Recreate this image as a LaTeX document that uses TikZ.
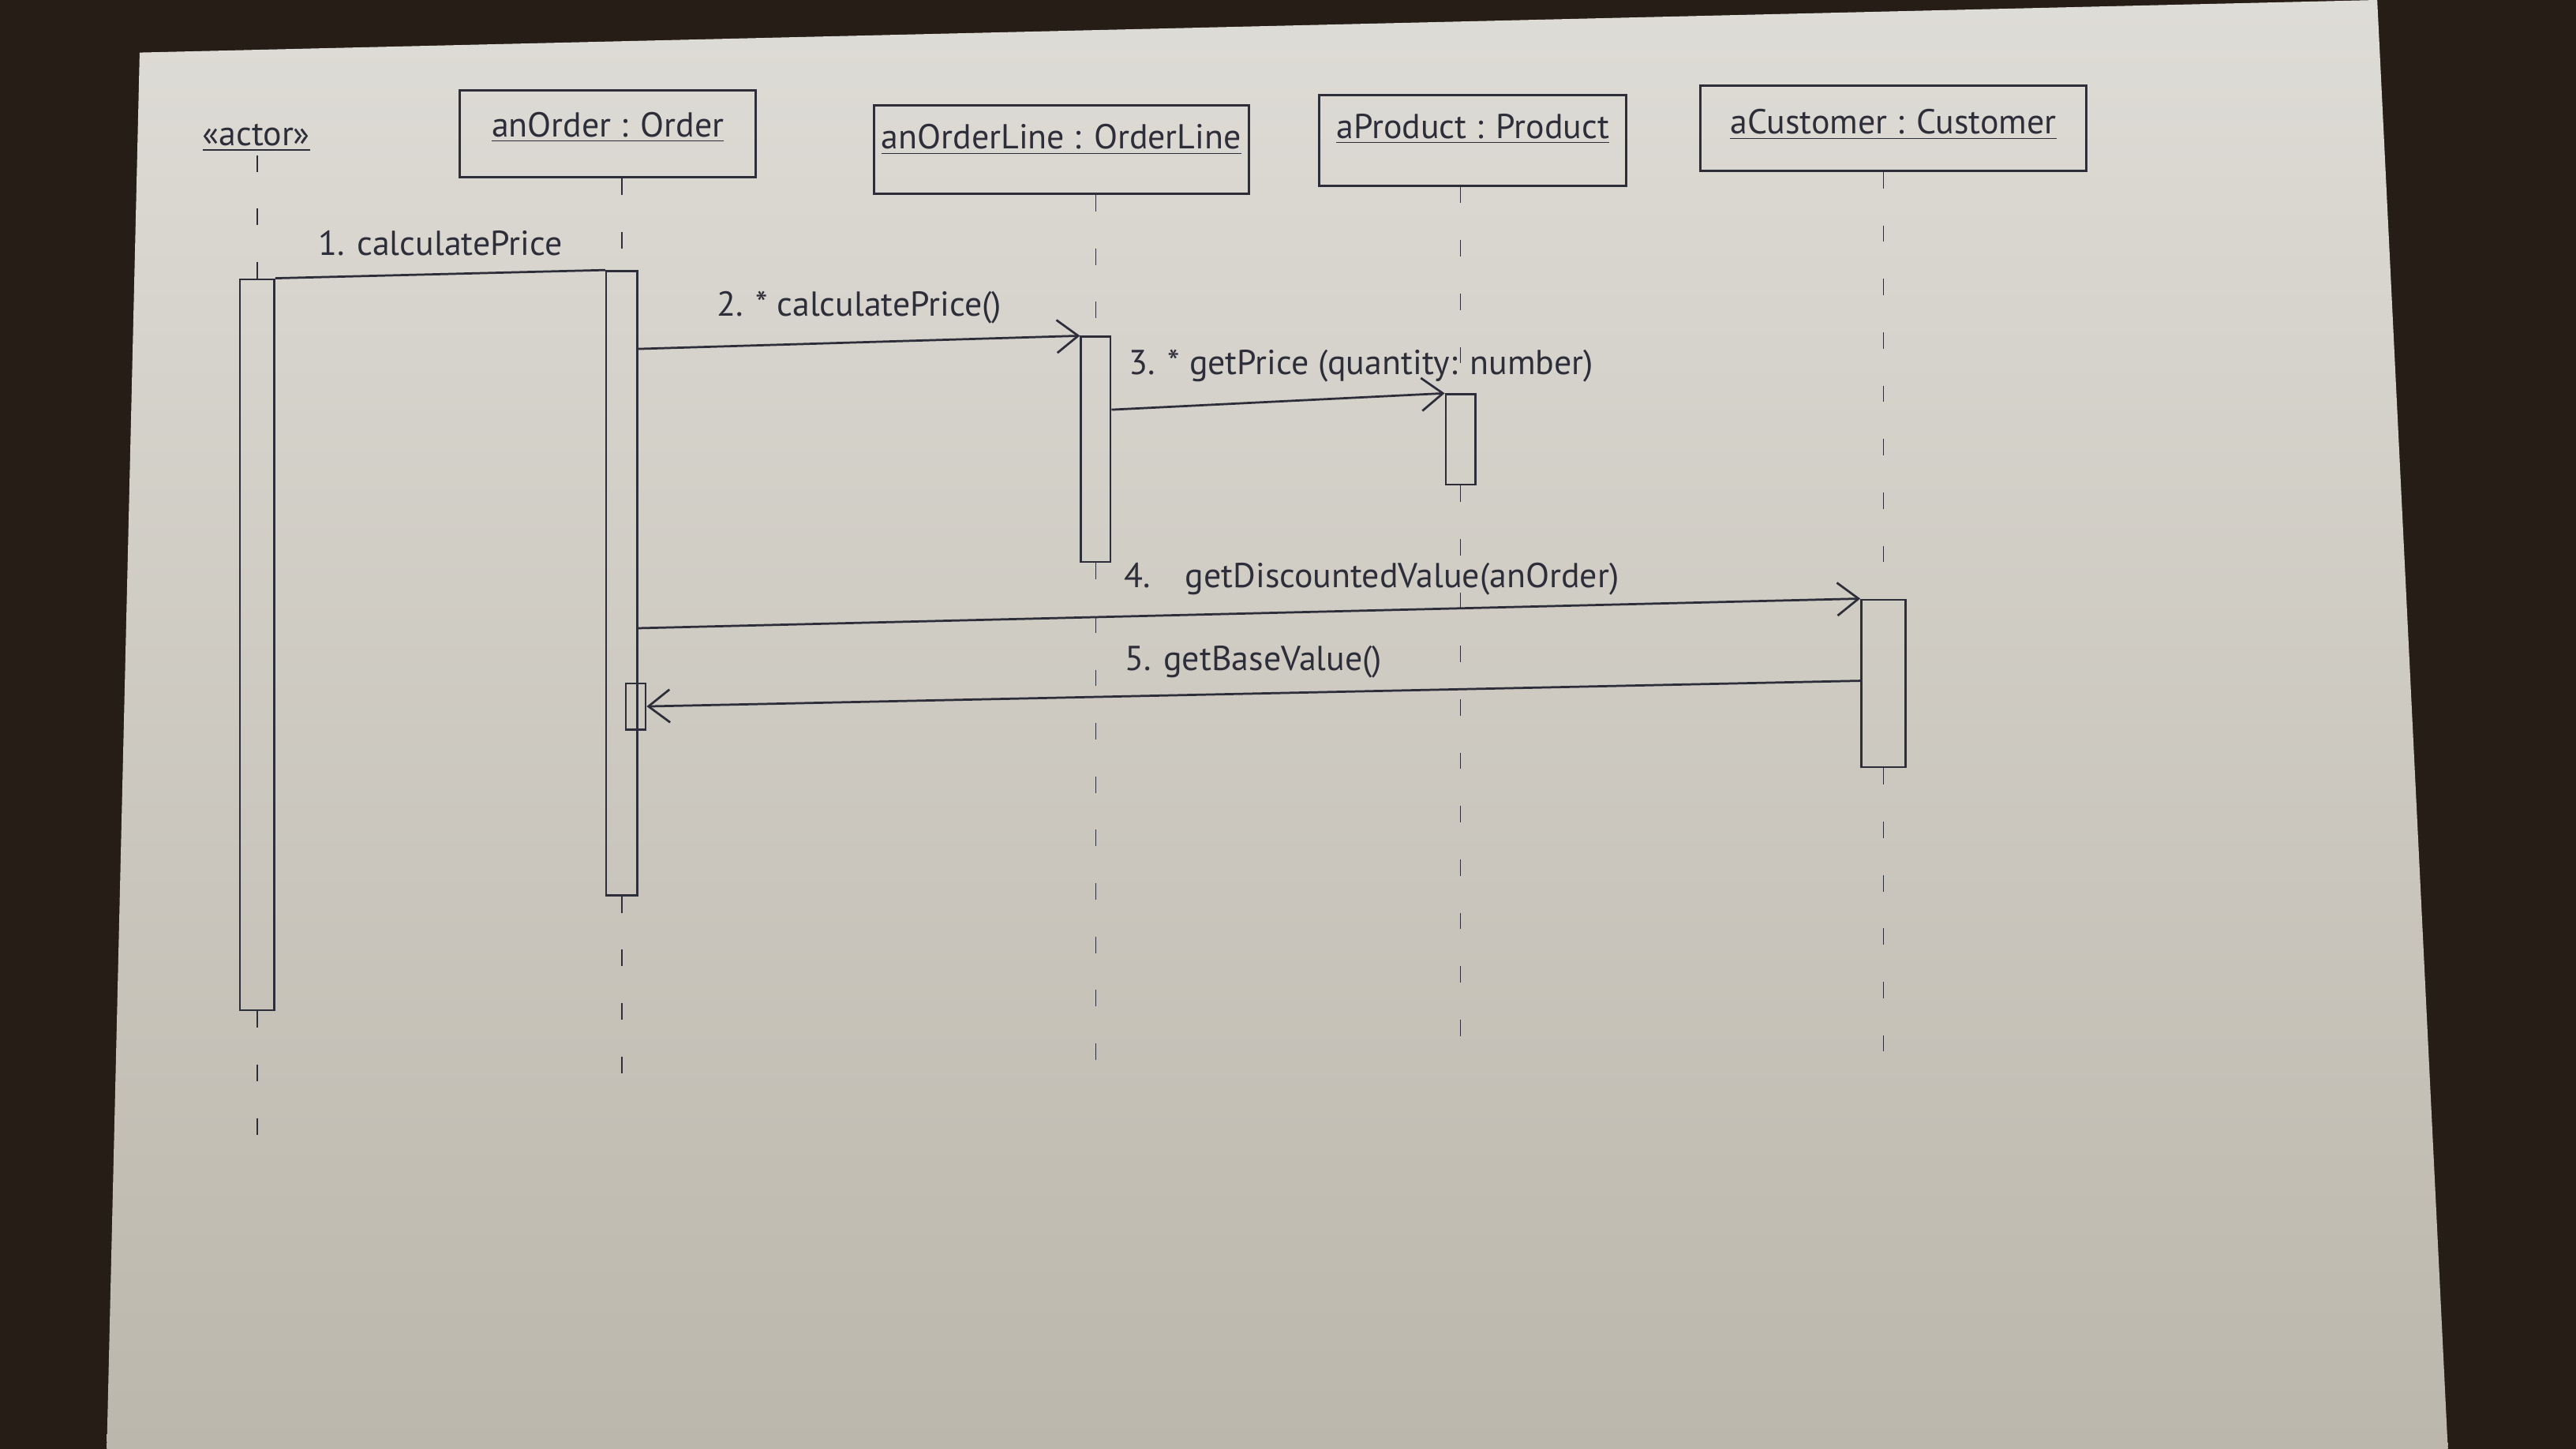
\documentclass[tikz,border=0pt]{standalone}
\usepackage{fontspec}
\setmainfont{PT Sans}
\usetikzlibrary{arrows.meta,calc}
\definecolor{ink}{HTML}{2E2E3A}
\definecolor{paperTop}{HTML}{DEDCD6}
\definecolor{paperBot}{HTML}{BCB7AC}
\definecolor{desk}{HTML}{261D17}
\begin{document}
\begin{tikzpicture}[x=0.2mm,y=-0.2mm,
  every node/.style={font=\fontsize{12}{14}\selectfont, text=ink},
  head/.style={draw=ink, line width=0.8pt, rectangle, inner sep=0pt},
  act/.style={draw=ink, line width=0.7pt, rectangle, inner sep=0pt},
  life/.style={draw=ink, line width=0.45pt, dash pattern=on 2mm off 4.5mm},
  msg/.style={draw=ink, line width=0.75pt},
  msgarrow/.style={msg, -{Straight Barb[length=2.6mm,width=4mm]}},
  lbl/.style={inner sep=1pt}]
\useasboundingbox (0,0) rectangle (1568,882);
\fill[desk] (0,0) rectangle (1568,882);
\shade[top color=paperTop,bottom color=paperBot] (85,32) -- (1447,0) -- (1490,882) -- (65,882) -- cycle;

% heads
\node[lbl] (actor) at (156,84) {\underline{«actor»}};
\node[head, minimum width=36mm, minimum height=10.6mm] (order) at (370,81.5) {};
\node at ($(order.center)+(0,-4)$) (ordert) {\underline{anOrder : Order}};
\node[head, minimum width=45.6mm, minimum height=10.8mm] (line) at (646,91) {};
\node at ($(line.center)+(0,-6)$) (linet) {\underline{anOrderLine : OrderLine}};
\node[head, minimum width=37.4mm, minimum height=11mm] (prod) at (896.5,85.5) {};
\node at ($(prod.center)+(0,-7)$) (prodt) {\underline{aProduct : Product}};
\node[head, minimum width=47mm, minimum height=10.4mm] (cust) at (1152.5,78) {};
\node at ($(cust.center)+(0,-2)$) (custt) {\underline{aCustomer : Customer}};

% activations
\node[act, minimum width=4.2mm, minimum height=89mm] (aActor) at (156.5,392.5) {};
\node[act, minimum width=3.8mm, minimum height=76mm] (aOrder) at (378.5,355) {};
\node[act, minimum width=3.6mm, minimum height=27.4mm] (aLine) at (667,273.5) {};
\node[act, minimum width=3.6mm, minimum height=11mm] (aProd) at (889,267.5) {};
\node[act, minimum width=5.4mm, minimum height=20.4mm] (aCust) at (1146.5,416) {};
\node[act, minimum width=2.4mm, minimum height=5.6mm] (aSelf) at (387,430) {};

% lifelines
\coordinate (endActor) at (156.5,710);
\coordinate (endOrder) at (378.5,665);
\coordinate (endLine) at (667,660);
\coordinate (endProd) at (889,640);
\coordinate (endCust) at (1146.5,640);
\draw[life] (actor.south -| aActor) -- (aActor.north);
\draw[life] (aActor.south) -- (endActor);
\draw[life] (order.south -| aOrder) -- (aOrder.north);
\draw[life] (aOrder.south) -- (endOrder);
\draw[life] (line.south -| aLine) -- (aLine.north);
\draw[life] (aLine.south) -- (endLine);
\draw[life] (prod.south -| aProd) -- (aProd.north);
\draw[life] (aProd.south) -- (endProd);
\draw[life] (cust.south -| aCust) -- (aCust.north);
\draw[life] (aCust.south) -- (endCust);

% messages
\draw[msg] (aActor.north east) -- (aOrder.north west)
  node[lbl, midway, above=5pt] (m1) {1. calculatePrice};
\draw[msgarrow] ($(aOrder.north east)+(0,48)$) -- (aLine.north west)
  node[lbl, midway, above=5pt] (m2) {2. * calculatePrice()};
\draw[msgarrow] ($(aLine.north east)+(0,45)$) -- (aProd.north west)
  node[lbl, pos=0.75, above=4pt] (m3) {3. * getPrice (quantity: number)};
\draw[msgarrow] ($(aOrder.north east)+(0,218)$) -- (aCust.north west)
  node[lbl, pos=0.6, above=4pt] (m4) {4.\quad getDiscountedValue(anOrder)};
\draw[msgarrow] ($(aCust.north west)+(0,50)$) -- (aSelf.east)
  node[lbl, pos=0.5, above=4pt] (m5) {5. getBaseValue()};
\end{tikzpicture}
\end{document}
